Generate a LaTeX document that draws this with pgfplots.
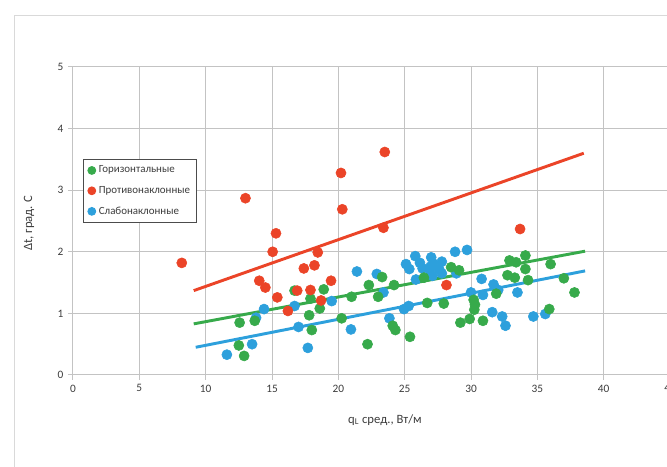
\documentclass[border=0pt]{standalone}
\usepackage{fontspec}
\setmainfont{Carlito}
\usepackage{pgfplots}
\pgfplotsset{compat=1.18}

\definecolor{hgreen}{RGB}{55,170,75}
\definecolor{hred}{RGB}{235,68,40}
\definecolor{hblue}{RGB}{45,160,220}
\definecolor{gridc}{RGB}{195,195,195}
\definecolor{textc}{RGB}{60,60,60}

\begin{document}
\begin{tikzpicture}
\path[use as bounding box] (0,0) rectangle (500.25pt,350.25pt);
\clip (0,0) rectangle (500.25pt,350.25pt);
% outer chart frame (cropped at right and bottom)
\draw[gray!30, line width=0.75pt] (10.5pt,-5pt) rectangle (530pt,338.25pt);
\begin{axis}[
    at={(54.75pt,69pt)}, anchor=south west,
    scale only axis, width=447.75pt, height=231pt,
    xmin=0, xmax=45, ymin=0, ymax=5,
    xtick={0,5,...,45}, ytick={0,1,...,5},
    axis x line*=bottom, axis y line*=left,
    axis line style={gridc, line width=0.75pt},
    grid=major, major grid style={gridc, line width=0.75pt},
    tick align=outside, major tick length=3.75pt,
    tick style={gridc, line width=0.75pt},
    /pgf/number format/assume math mode=true,
    tick label style={font=\fontsize{8.5}{10}\selectfont, text=textc},
    xlabel={q\textsubscript{L} сред., Вт/м},
    ylabel={Δt, град. С},
    label style={font=\fontsize{9.5}{11}\selectfont, text=textc},
    xlabel style={at={(axis description cs:0.5226,-0.146)}, anchor=center},
    ylabel style={at={(axis description cs:-0.0737,0.4935)}, anchor=center},
    legend style={at={(axis cs:0.75,3.51)}, anchor=north west,
        draw=black!70, line width=0.75pt, fill=white,
        font=\fontsize{8.2}{10}\selectfont, text=textc,
        row sep=4.5pt, inner xsep=3pt, inner ysep=3pt},
    legend cell align=left,
    legend image code/.code={\fill (0pt,0pt) circle (2.9pt);},
]

% Слабонаклонные (drawn first, lies under the others)
\addplot[only marks, mark=*, mark size=3.8pt, color=hblue, forget plot] coordinates {
    (11.6,0.33) (13.5,0.50) (13.8,0.93) (14.4,1.07) (16.7,1.12) (17.0,0.78)
    (17.7,0.44) (19.5,1.20) (20.95,0.74) (21.4,1.68) (22.9,1.64) (23.4,1.34)
    (23.85,0.92) (24.95,1.07) (25.3,1.12) (25.1,1.80) (25.35,1.72) (25.8,1.93)
    (25.85,1.55) (26.15,1.82) (26.35,1.73) (26.9,1.70) (26.95,1.76) (27.0,1.91)
    (27.1,1.61) (27.15,1.81) (27.6,1.72) (27.8,1.84) (27.8,1.65) (28.8,2.00)
    (28.9,1.65) (29.7,2.03) (30.0,1.34) (30.8,1.56) (30.9,1.30) (31.6,1.02)
    (31.7,1.47) (32.05,1.38) (32.35,0.95) (32.6,0.80) (33.5,1.34) (34.7,0.95)
    (35.6,0.99)
};

% Горизонтальные
\addplot[only marks, mark=*, mark size=3.8pt, color=hgreen] coordinates {
    (12.56,0.85) (12.5,0.48) (12.9,0.31) (13.7,0.88) (16.7,1.37) (17.9,1.24)
    (18.6,1.08) (18.9,1.39) (17.8,0.97) (18.0,0.73) (20.25,0.92) (21.0,1.27)
    (22.2,0.50) (22.3,1.46) (23.3,1.59) (23.0,1.27) (24.2,1.46) (24.1,0.80)
    (24.3,0.73) (25.4,0.62) (26.45,1.58) (26.7,1.17) (27.95,1.16) (28.5,1.75)
    (29.1,1.70) (29.2,0.85) (29.9,0.91) (30.2,1.22) (30.3,1.14) (30.25,1.06)
    (30.9,0.88) (31.9,1.32) (32.75,1.62) (32.9,1.86) (33.3,1.58) (33.4,1.83)
    (34.1,1.94) (34.1,1.72) (34.3,1.54) (35.9,1.07) (36.0,1.80) (37.0,1.57)
    (37.8,1.34)
};
\addlegendentry{Горизонтальные}

% Противонаклонные
\addplot[only marks, mark=*, mark size=3.8pt, color=hred] coordinates {
    (8.2,1.82) (13.0,2.87) (14.04,1.53) (14.5,1.42) (15.05,2.00) (15.3,2.30)
    (15.4,1.26) (16.2,1.04) (16.9,1.37) (17.4,1.73) (17.9,1.38) (18.2,1.78)
    (18.45,1.99) (18.7,1.21) (19.45,1.53) (20.2,3.28) (20.3,2.69) (23.4,2.39)
    (23.5,3.62) (28.15,1.46) (33.7,2.37)
};
\addlegendentry{Противонаклонные}

\addlegendimage{only marks, mark=*, mark size=3.8pt, color=hblue}
\addlegendentry{Слабонаклонные}

% линии тренда
\addplot[hred, line width=2.2pt, forget plot] coordinates {(9.1,1.37) (38.5,3.60)};
\addplot[hgreen, line width=2.2pt, forget plot] coordinates {(9.1,0.83) (38.6,2.01)};
\addplot[hblue, line width=2.2pt, forget plot] coordinates {(9.25,0.45) (38.6,1.69)};

\end{axis}
\end{tikzpicture}
\end{document}
